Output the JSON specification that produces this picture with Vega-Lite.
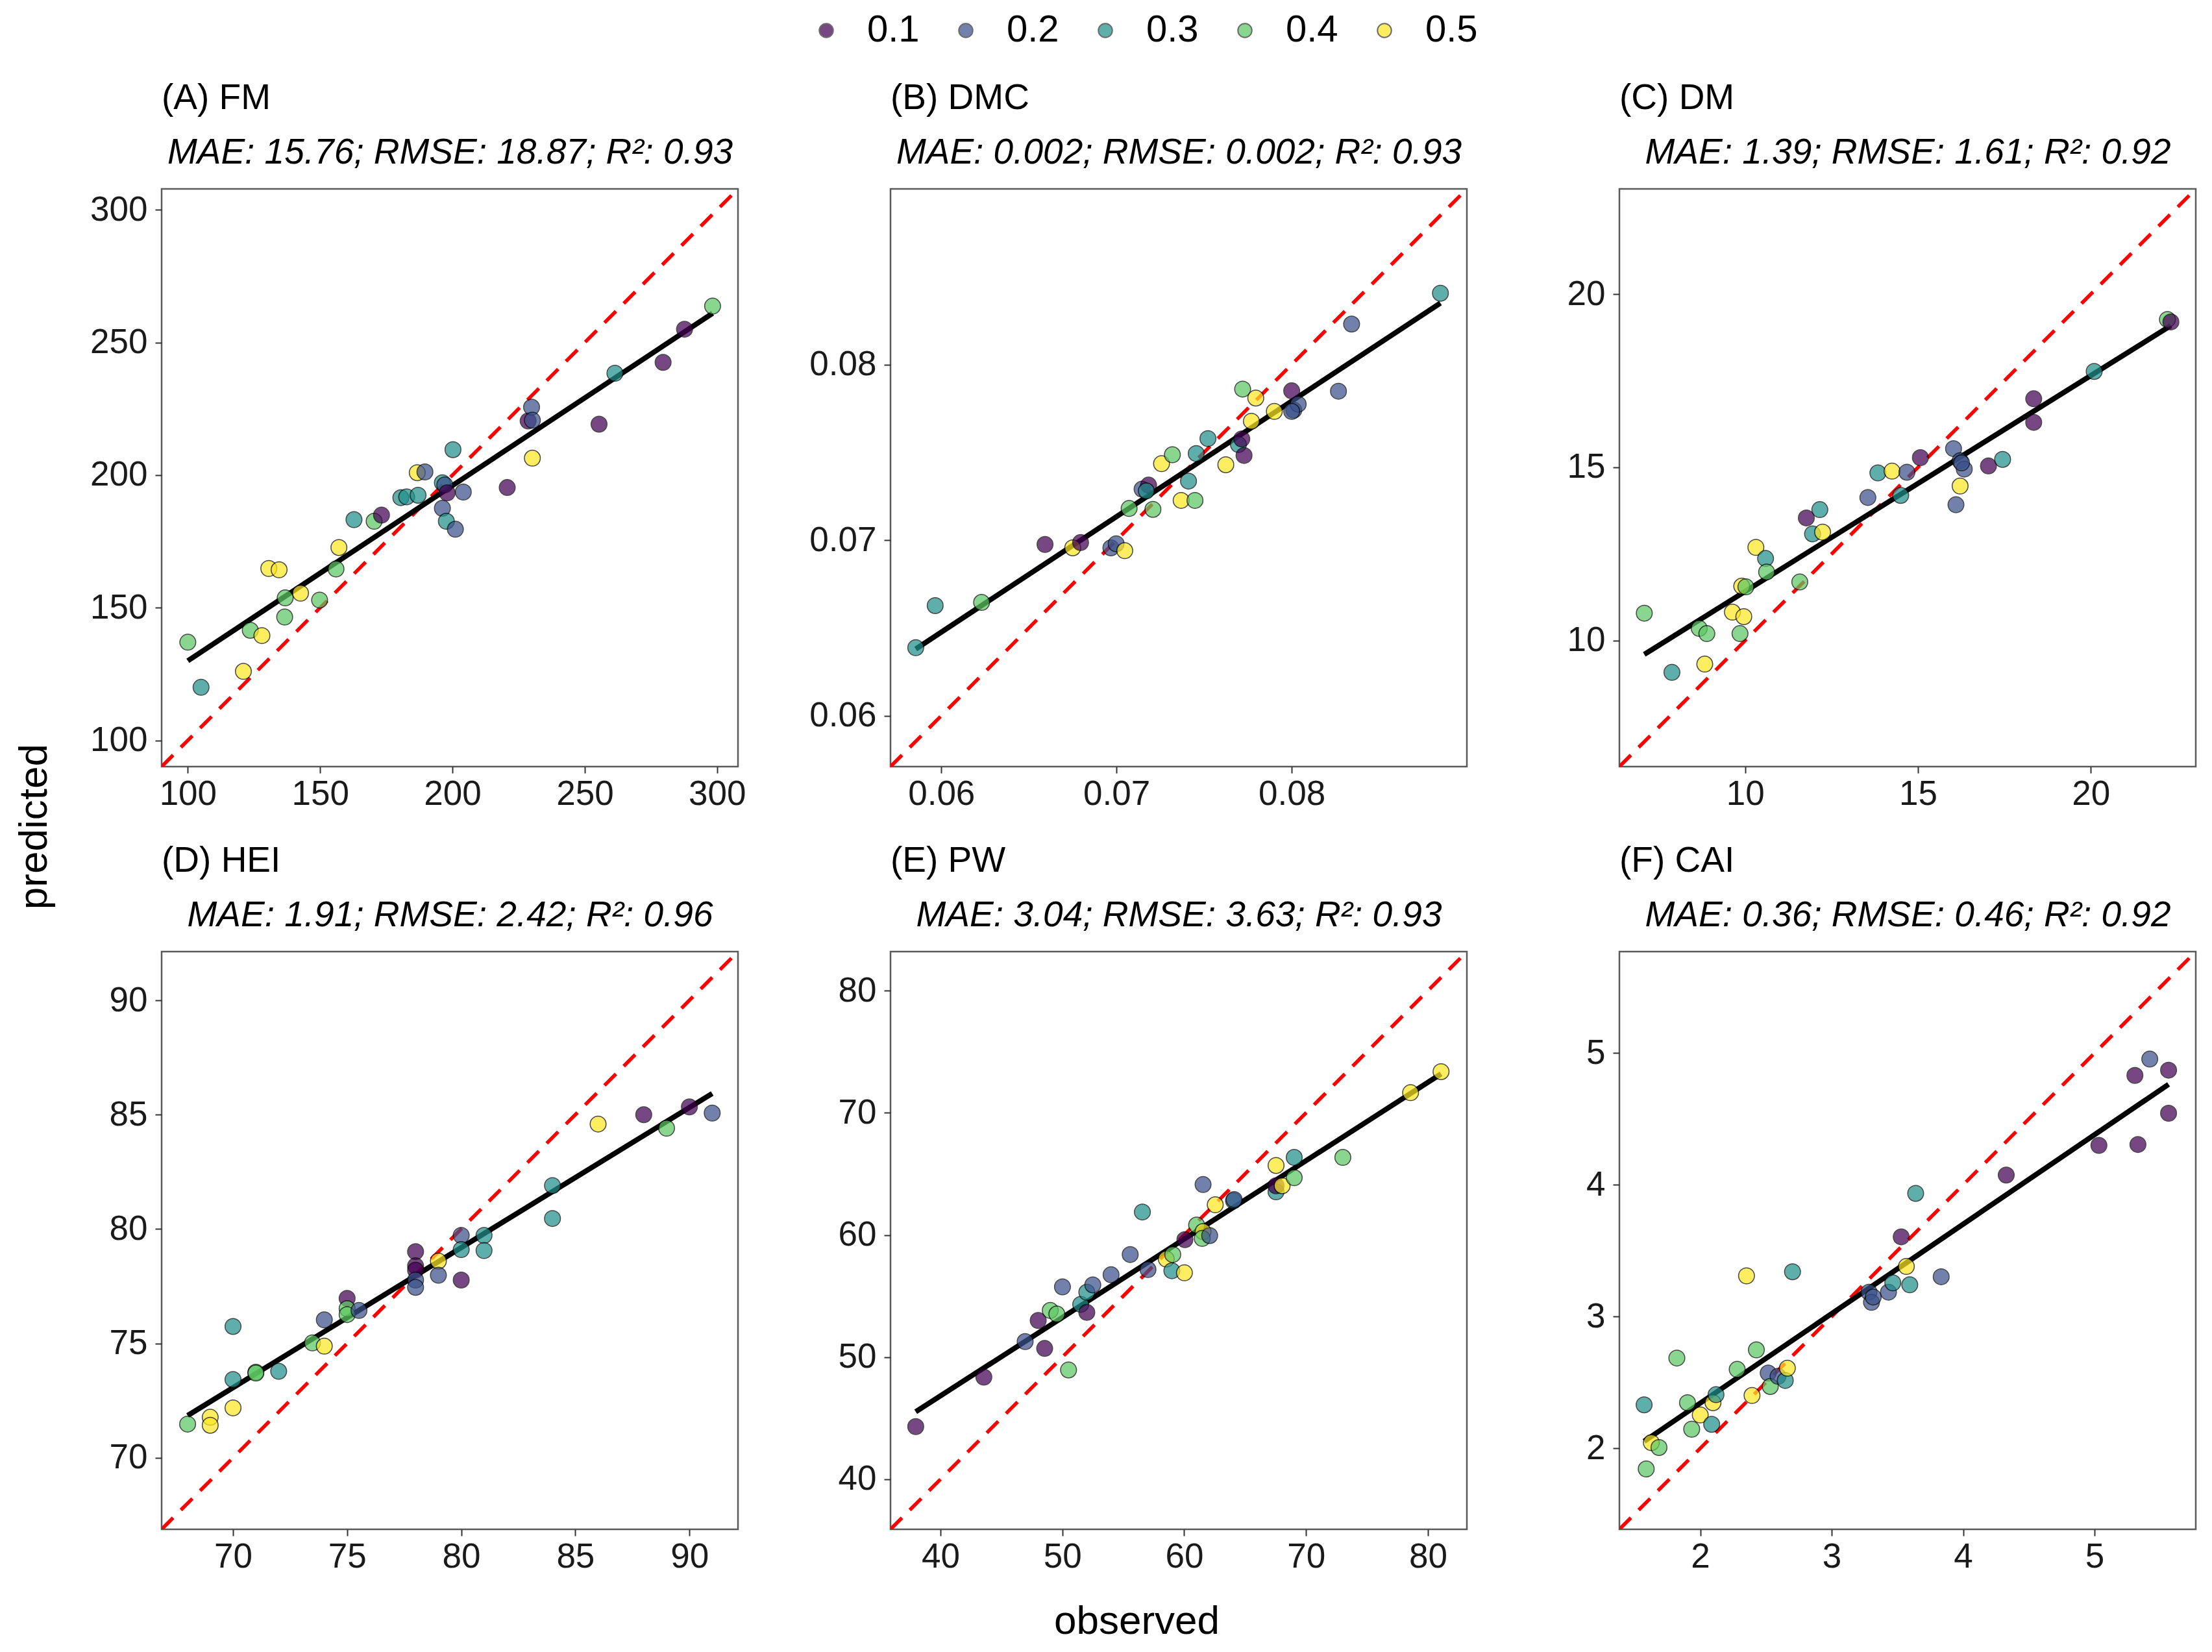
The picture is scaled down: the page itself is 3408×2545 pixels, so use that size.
{
  "$schema": "https://vega.github.io/schema/vega-lite/v6.json",
  "padding": {"left": 22, "top": 18, "right": 20, "bottom": 10},
  "title": {"text": "predicted", "orient": "left", "anchor": "middle", "frame": "bounds", "fontSize": 62, "fontWeight": "normal", "offset": 52},
  "datasets": {
    "ident": [
      {"panel": "A", "lo": 90.1, "hi": 307.9},
      {"panel": "B", "lo": 0.0571, "hi": 0.09},
      {"panel": "C", "lo": 6.36, "hi": 23.04},
      {"panel": "D", "lo": 66.87, "hi": 92.13},
      {"panel": "E", "lo": 35.9, "hi": 83.2},
      {"panel": "F", "lo": 1.385, "hi": 5.77}
    ],
    "fm": [
      {"obs": 100, "pred": 137, "level": "0.4"}, {"obs": 105, "pred": 120, "level": "0.3"}, {"obs": 121, "pred": 126, "level": "0.5"},
      {"obs": 123.6, "pred": 141.5, "level": "0.4"}, {"obs": 128, "pred": 139.5, "level": "0.5"}, {"obs": 130.6, "pred": 164.8, "level": "0.5"},
      {"obs": 134.5, "pred": 164.3, "level": "0.5"}, {"obs": 136.8, "pred": 153.7, "level": "0.4"}, {"obs": 136.6, "pred": 146.5, "level": "0.4"},
      {"obs": 142.6, "pred": 155.5, "level": "0.5"}, {"obs": 149.8, "pred": 152.9, "level": "0.4"}, {"obs": 156, "pred": 164.6, "level": "0.4"},
      {"obs": 157.1, "pred": 172.7, "level": "0.5"}, {"obs": 162.8, "pred": 183.2, "level": "0.3"}, {"obs": 170.4, "pred": 182.6, "level": "0.4"},
      {"obs": 173.2, "pred": 184.9, "level": "0.1"}, {"obs": 180.5, "pred": 191.5, "level": "0.3"}, {"obs": 182.7, "pred": 191.8, "level": "0.3"},
      {"obs": 187, "pred": 192.4, "level": "0.3"}, {"obs": 186.7, "pred": 200.9, "level": "0.5"}, {"obs": 189.6, "pred": 201.2, "level": "0.2"},
      {"obs": 196.2, "pred": 197.1, "level": "0.3"}, {"obs": 197.1, "pred": 196.3, "level": "0.2"}, {"obs": 198, "pred": 193.3, "level": "0.1"},
      {"obs": 204.1, "pred": 193.6, "level": "0.2"}, {"obs": 196.2, "pred": 187.5, "level": "0.2"}, {"obs": 197.7, "pred": 182.6, "level": "0.3"},
      {"obs": 201.1, "pred": 179.6, "level": "0.2"}, {"obs": 200.2, "pred": 209.6, "level": "0.3"}, {"obs": 220.7, "pred": 195.3, "level": "0.1"},
      {"obs": 228.6, "pred": 220.4, "level": "0.1"}, {"obs": 229.9, "pred": 225.6, "level": "0.2"}, {"obs": 230.2, "pred": 220.7, "level": "0.2"},
      {"obs": 230.2, "pred": 206.4, "level": "0.5"}, {"obs": 255.4, "pred": 219.2, "level": "0.1"}, {"obs": 261.4, "pred": 238.4, "level": "0.3"},
      {"obs": 279.6, "pred": 242.5, "level": "0.1"}, {"obs": 287.7, "pred": 255, "level": "0.1"}, {"obs": 298.3, "pred": 263.7, "level": "0.4"}
    ],
    "dmc": [
      {"obs": 0.05854, "pred": 0.06387, "level": "0.3"}, {"obs": 0.05965, "pred": 0.06627, "level": "0.3"}, {"obs": 0.0623, "pred": 0.06645, "level": "0.4"},
      {"obs": 0.06592, "pred": 0.06975, "level": "0.1"}, {"obs": 0.0675, "pred": 0.06956, "level": "0.5"}, {"obs": 0.06795, "pred": 0.06986, "level": "0.1"},
      {"obs": 0.06968, "pred": 0.06956, "level": "0.2"}, {"obs": 0.06998, "pred": 0.06979, "level": "0.2"}, {"obs": 0.07047, "pred": 0.0694, "level": "0.5"},
      {"obs": 0.07072, "pred": 0.0718, "level": "0.4"}, {"obs": 0.07208, "pred": 0.07175, "level": "0.4"}, {"obs": 0.07146, "pred": 0.0729, "level": "0.2"},
      {"obs": 0.07183, "pred": 0.07313, "level": "0.1"}, {"obs": 0.0717, "pred": 0.0728, "level": "0.3"}, {"obs": 0.07257, "pred": 0.07435, "level": "0.5"},
      {"obs": 0.07319, "pred": 0.07486, "level": "0.4"}, {"obs": 0.07369, "pred": 0.07226, "level": "0.5"}, {"obs": 0.07448, "pred": 0.07226, "level": "0.4"},
      {"obs": 0.07411, "pred": 0.07336, "level": "0.3"}, {"obs": 0.07455, "pred": 0.07493, "level": "0.3"}, {"obs": 0.07522, "pred": 0.07578, "level": "0.3"},
      {"obs": 0.07624, "pred": 0.07429, "level": "0.5"}, {"obs": 0.07696, "pred": 0.07544, "level": "0.3"}, {"obs": 0.07715, "pred": 0.07576, "level": "0.1"},
      {"obs": 0.07728, "pred": 0.07482, "level": "0.1"}, {"obs": 0.0772, "pred": 0.0786, "level": "0.4"}, {"obs": 0.07795, "pred": 0.07809, "level": "0.5"},
      {"obs": 0.0777, "pred": 0.07677, "level": "0.5"}, {"obs": 0.07901, "pred": 0.07733, "level": "0.5"}, {"obs": 0.08, "pred": 0.0785, "level": "0.1"},
      {"obs": 0.08012, "pred": 0.0774, "level": "0.2"}, {"obs": 0.08037, "pred": 0.07774, "level": "0.2"}, {"obs": 0.08, "pred": 0.07733, "level": "0.2"},
      {"obs": 0.08267, "pred": 0.07848, "level": "0.2"}, {"obs": 0.08342, "pred": 0.0823, "level": "0.2"}, {"obs": 0.08849, "pred": 0.08406, "level": "0.3"}
    ],
    "dm": [
      {"obs": 7.08, "pred": 10.79, "level": "0.4"}, {"obs": 7.88, "pred": 9.08, "level": "0.3"}, {"obs": 8.67, "pred": 10.35, "level": "0.4"},
      {"obs": 8.89, "pred": 10.2, "level": "0.4"}, {"obs": 8.83, "pred": 9.32, "level": "0.5"}, {"obs": 9.63, "pred": 10.82, "level": "0.5"},
      {"obs": 9.96, "pred": 10.69, "level": "0.5"}, {"obs": 9.85, "pred": 10.2, "level": "0.4"}, {"obs": 9.9, "pred": 11.57, "level": "0.5"},
      {"obs": 10.02, "pred": 11.55, "level": "0.4"}, {"obs": 10.31, "pred": 12.69, "level": "0.5"}, {"obs": 10.59, "pred": 12.37, "level": "0.3"},
      {"obs": 10.62, "pred": 11.98, "level": "0.4"}, {"obs": 11.58, "pred": 11.69, "level": "0.4"}, {"obs": 11.77, "pred": 13.54, "level": "0.1"},
      {"obs": 11.95, "pred": 13.08, "level": "0.3"}, {"obs": 12.16, "pred": 13.78, "level": "0.3"}, {"obs": 12.24, "pred": 13.13, "level": "0.5"},
      {"obs": 13.55, "pred": 14.13, "level": "0.2"}, {"obs": 13.84, "pred": 14.84, "level": "0.3"}, {"obs": 14.25, "pred": 14.89, "level": "0.5"},
      {"obs": 14.68, "pred": 14.86, "level": "0.2"}, {"obs": 14.5, "pred": 14.19, "level": "0.3"}, {"obs": 15.07, "pred": 15.28, "level": "0.1"},
      {"obs": 16.03, "pred": 15.54, "level": "0.2"}, {"obs": 16.22, "pred": 15.19, "level": "0.2"}, {"obs": 16.34, "pred": 14.95, "level": "0.2"},
      {"obs": 16.26, "pred": 15.13, "level": "0.2"}, {"obs": 16.1, "pred": 13.92, "level": "0.2"}, {"obs": 16.22, "pred": 14.46, "level": "0.5"},
      {"obs": 17.04, "pred": 15.04, "level": "0.1"}, {"obs": 17.45, "pred": 15.23, "level": "0.3"}, {"obs": 18.35, "pred": 16.98, "level": "0.1"},
      {"obs": 18.35, "pred": 16.3, "level": "0.1"}, {"obs": 20.1, "pred": 17.77, "level": "0.3"}, {"obs": 22.22, "pred": 19.27, "level": "0.4"},
      {"obs": 22.32, "pred": 19.2, "level": "0.1"}
    ],
    "hei": [
      {"obs": 68.01, "pred": 71.47, "level": "0.4"}, {"obs": 69, "pred": 71.77, "level": "0.5"}, {"obs": 69, "pred": 71.42, "level": "0.5"},
      {"obs": 70, "pred": 72.18, "level": "0.5"}, {"obs": 70, "pred": 73.42, "level": "0.3"}, {"obs": 70, "pred": 75.74, "level": "0.3"},
      {"obs": 71, "pred": 73.74, "level": "0.4"}, {"obs": 71, "pred": 73.7, "level": "0.4"}, {"obs": 72, "pred": 73.78, "level": "0.3"},
      {"obs": 73.48, "pred": 75.02, "level": "0.4"}, {"obs": 74, "pred": 74.88, "level": "0.5"}, {"obs": 74, "pred": 76.03, "level": "0.2"},
      {"obs": 75, "pred": 76.97, "level": "0.1"}, {"obs": 75, "pred": 76.52, "level": "0.4"}, {"obs": 75, "pred": 76.26, "level": "0.4"},
      {"obs": 75.52, "pred": 76.44, "level": "0.2"}, {"obs": 78, "pred": 79.01, "level": "0.1"}, {"obs": 78, "pred": 78.39, "level": "0.1"},
      {"obs": 78, "pred": 78.2, "level": "0.1"}, {"obs": 78, "pred": 77.77, "level": "0.2"}, {"obs": 78, "pred": 77.45, "level": "0.2"},
      {"obs": 79, "pred": 78.6, "level": "0.5"}, {"obs": 79, "pred": 77.98, "level": "0.2"}, {"obs": 80, "pred": 77.77, "level": "0.1"},
      {"obs": 80, "pred": 79.72, "level": "0.2"}, {"obs": 80, "pred": 79.1, "level": "0.3"}, {"obs": 81, "pred": 79.72, "level": "0.3"},
      {"obs": 81, "pred": 79.06, "level": "0.3"}, {"obs": 84, "pred": 81.9, "level": "0.3"}, {"obs": 84, "pred": 80.46, "level": "0.3"},
      {"obs": 86, "pred": 84.59, "level": "0.5"}, {"obs": 88, "pred": 85, "level": "0.1"}, {"obs": 89, "pred": 84.41, "level": "0.4"},
      {"obs": 90, "pred": 85.34, "level": "0.1"}, {"obs": 91, "pred": 85.07, "level": "0.2"}
    ],
    "pw": [
      {"obs": 37.97, "pred": 44.31, "level": "0.1"}, {"obs": 43.56, "pred": 48.36, "level": "0.1"}, {"obs": 46.95, "pred": 51.27, "level": "0.2"},
      {"obs": 48.55, "pred": 50.71, "level": "0.1"}, {"obs": 48.02, "pred": 53, "level": "0.1"}, {"obs": 49.01, "pred": 53.82, "level": "0.4"},
      {"obs": 49.55, "pred": 53.53, "level": "0.4"}, {"obs": 50.01, "pred": 55.75, "level": "0.2"}, {"obs": 50.51, "pred": 48.95, "level": "0.4"},
      {"obs": 51.51, "pred": 54.32, "level": "0.3"}, {"obs": 52.01, "pred": 53.66, "level": "0.1"}, {"obs": 52.01, "pred": 55.31, "level": "0.3"},
      {"obs": 52.5, "pred": 55.91, "level": "0.2"}, {"obs": 54, "pred": 56.74, "level": "0.2"}, {"obs": 55.57, "pred": 58.4, "level": "0.2"},
      {"obs": 56.57, "pred": 61.88, "level": "0.3"}, {"obs": 57.03, "pred": 57.17, "level": "0.2"}, {"obs": 58.53, "pred": 58.03, "level": "0.5"},
      {"obs": 59.06, "pred": 58.4, "level": "0.4"}, {"obs": 58.99, "pred": 57.07, "level": "0.3"}, {"obs": 60.02, "pred": 56.9, "level": "0.5"},
      {"obs": 60.06, "pred": 59.62, "level": "0.1"}, {"obs": 61.02, "pred": 60.81, "level": "0.4"}, {"obs": 61.55, "pred": 60.28, "level": "0.5"},
      {"obs": 61.48, "pred": 59.72, "level": "0.4"}, {"obs": 62.09, "pred": 59.95, "level": "0.2"}, {"obs": 61.55, "pred": 64.13, "level": "0.2"},
      {"obs": 62.55, "pred": 62.47, "level": "0.5"}, {"obs": 64.05, "pred": 62.8, "level": "0.3"}, {"obs": 64.1, "pred": 62.9, "level": "0.2"},
      {"obs": 67.54, "pred": 65.69, "level": "0.5"}, {"obs": 67.54, "pred": 63.53, "level": "0.3"}, {"obs": 67.54, "pred": 64.03, "level": "0.1"},
      {"obs": 68.04, "pred": 64.03, "level": "0.5"}, {"obs": 69.03, "pred": 66.35, "level": "0.3"}, {"obs": 69.03, "pred": 64.69, "level": "0.4"},
      {"obs": 73.02, "pred": 66.35, "level": "0.4"}, {"obs": 78.58, "pred": 71.65, "level": "0.5"}, {"obs": 81.08, "pred": 73.37, "level": "0.5"}
    ],
    "cai": [
      {"obs": 1.573, "pred": 2.33, "level": "0.3"}, {"obs": 1.589, "pred": 1.843, "level": "0.4"}, {"obs": 1.628, "pred": 2.043, "level": "0.5"},
      {"obs": 1.686, "pred": 2.006, "level": "0.4"}, {"obs": 1.822, "pred": 2.685, "level": "0.4"}, {"obs": 1.903, "pred": 2.346, "level": "0.4"},
      {"obs": 1.935, "pred": 2.145, "level": "0.4"}, {"obs": 2.0, "pred": 2.253, "level": "0.5"}, {"obs": 2.097, "pred": 2.346, "level": "0.5"},
      {"obs": 2.12, "pred": 2.407, "level": "0.3"}, {"obs": 2.087, "pred": 2.182, "level": "0.3"}, {"obs": 2.281, "pred": 2.599, "level": "0.4"},
      {"obs": 2.352, "pred": 3.309, "level": "0.5"}, {"obs": 2.394, "pred": 2.401, "level": "0.5"}, {"obs": 2.427, "pred": 2.747, "level": "0.4"},
      {"obs": 2.517, "pred": 2.571, "level": "0.2"}, {"obs": 2.533, "pred": 2.469, "level": "0.4"}, {"obs": 2.592, "pred": 2.546, "level": "0.2"},
      {"obs": 2.647, "pred": 2.515, "level": "0.3"}, {"obs": 2.663, "pred": 2.608, "level": "0.5"}, {"obs": 2.702, "pred": 3.34, "level": "0.3"},
      {"obs": 3.284, "pred": 3.185, "level": "0.2"}, {"obs": 3.303, "pred": 3.108, "level": "0.2"}, {"obs": 3.316, "pred": 3.148, "level": "0.2"},
      {"obs": 3.432, "pred": 3.185, "level": "0.2"}, {"obs": 3.465, "pred": 3.256, "level": "0.3"}, {"obs": 3.529, "pred": 3.605, "level": "0.1"},
      {"obs": 3.568, "pred": 3.38, "level": "0.5"}, {"obs": 3.594, "pred": 3.241, "level": "0.3"}, {"obs": 3.639, "pred": 3.935, "level": "0.3"},
      {"obs": 3.833, "pred": 3.302, "level": "0.2"}, {"obs": 4.328, "pred": 4.074, "level": "0.1"}, {"obs": 5.033, "pred": 4.299, "level": "0.1"},
      {"obs": 5.33, "pred": 4.306, "level": "0.1"}, {"obs": 5.307, "pred": 4.83, "level": "0.1"}, {"obs": 5.42, "pred": 4.954, "level": "0.2"},
      {"obs": 5.563, "pred": 4.87, "level": "0.1"}, {"obs": 5.563, "pred": 4.543, "level": "0.1"}
    ]
  },
  "columns": 3,
  "bounds": "flush",
  "spacing": {"row": 285, "column": 235},
  "concat": [
    {
      "width": 888, "height": 890,
      "title": {"text": "(A) FM"},
      "layer": [
        {
          "data": {"name": "ident"},
          "transform": [{"filter": "datum.panel == 'A'"}],
          "mark": {"type": "rule", "color": "#ff0000", "strokeWidth": 5.5, "strokeDash": [25, 17], "clip": true},
          "encoding": {
            "x": {"field": "lo", "type": "quantitative", "scale": {"domain": [90.1, 307.9], "nice": false, "zero": false},
              "axis": {"orient": "top", "title": "MAE: 15.76; RMSE: 18.87; R²: 0.93", "labels": false, "ticks": false, "minExtent": 0, "titleFontStyle": "italic", "titleFontSize": 55, "titlePadding": 28}},
            "y": {"field": "lo", "type": "quantitative", "scale": {"domain": [90.1, 307.9], "nice": false, "zero": false}, "axis": {"values": [100, 150, 200, 250, 300], "title": null}},
            "x2": {"field": "hi"}, "y2": {"field": "hi"}
          }
        },
        {
          "data": {"name": "fm"},
          "transform": [{"regression": "pred", "on": "obs"}],
          "mark": {"type": "line", "color": "#000000", "strokeWidth": 8},
          "encoding": {
            "x": {"field": "obs", "type": "quantitative", "scale": {"domain": [90.1, 307.9], "nice": false, "zero": false}, "axis": null},
            "y": {"field": "pred", "type": "quantitative", "scale": {"domain": [90.1, 307.9], "nice": false, "zero": false}, "axis": {"values": [100, 150, 200, 250, 300], "title": null}}
          }
        },
        {
          "data": {"name": "fm"},
          "mark": {"type": "point", "filled": true, "size": 600, "opacity": 0.72, "stroke": "#000000", "strokeWidth": 1.5},
          "encoding": {
            "x": {"field": "obs", "type": "quantitative", "scale": {"domain": [90.1, 307.9], "nice": false, "zero": false}, "axis": {"orient": "bottom", "values": [100, 150, 200, 250, 300], "title": null}},
            "y": {"field": "pred", "type": "quantitative", "scale": {"domain": [90.1, 307.9], "nice": false, "zero": false}, "axis": {"values": [100, 150, 200, 250, 300], "title": null}},
            "color": {"field": "level", "type": "nominal", "scale": {"domain": ["0.1", "0.2", "0.3", "0.4", "0.5"], "range": ["#440154", "#3B528B", "#21908C", "#5DC863", "#FDE725"]}, "legend": {"title": null}}
          }
        }
      ],
      "resolve": {"axis": {"x": "independent"}}
    },
    {
      "width": 888, "height": 890,
      "title": {"text": "(B) DMC"},
      "layer": [
        {
          "data": {"name": "ident"},
          "transform": [{"filter": "datum.panel == 'B'"}],
          "mark": {"type": "rule", "color": "#ff0000", "strokeWidth": 5.5, "strokeDash": [25, 17], "clip": true},
          "encoding": {
            "x": {"field": "lo", "type": "quantitative", "scale": {"domain": [0.0571, 0.09], "nice": false, "zero": false},
              "axis": {"orient": "top", "title": "MAE: 0.002; RMSE: 0.002; R²: 0.93", "labels": false, "ticks": false, "minExtent": 0, "titleFontStyle": "italic", "titleFontSize": 55, "titlePadding": 28}},
            "y": {"field": "lo", "type": "quantitative", "scale": {"domain": [0.0571, 0.09], "nice": false, "zero": false}, "axis": {"values": [0.06, 0.07, 0.08], "format": ".2f", "title": null}},
            "x2": {"field": "hi"}, "y2": {"field": "hi"}
          }
        },
        {
          "data": {"name": "dmc"},
          "transform": [{"regression": "pred", "on": "obs"}],
          "mark": {"type": "line", "color": "#000000", "strokeWidth": 8},
          "encoding": {
            "x": {"field": "obs", "type": "quantitative", "scale": {"domain": [0.0571, 0.09], "nice": false, "zero": false}, "axis": null},
            "y": {"field": "pred", "type": "quantitative", "scale": {"domain": [0.0571, 0.09], "nice": false, "zero": false}, "axis": {"values": [0.06, 0.07, 0.08], "format": ".2f", "title": null}}
          }
        },
        {
          "data": {"name": "dmc"},
          "mark": {"type": "point", "filled": true, "size": 600, "opacity": 0.72, "stroke": "#000000", "strokeWidth": 1.5},
          "encoding": {
            "x": {"field": "obs", "type": "quantitative", "scale": {"domain": [0.0571, 0.09], "nice": false, "zero": false}, "axis": {"orient": "bottom", "values": [0.06, 0.07, 0.08], "format": ".2f", "title": null}},
            "y": {"field": "pred", "type": "quantitative", "scale": {"domain": [0.0571, 0.09], "nice": false, "zero": false}, "axis": {"values": [0.06, 0.07, 0.08], "format": ".2f", "title": null}},
            "color": {"field": "level", "type": "nominal", "scale": {"domain": ["0.1", "0.2", "0.3", "0.4", "0.5"], "range": ["#440154", "#3B528B", "#21908C", "#5DC863", "#FDE725"]}, "legend": {"title": null}}
          }
        }
      ],
      "resolve": {"axis": {"x": "independent"}}
    },
    {
      "width": 888, "height": 890,
      "title": {"text": "(C) DM"},
      "layer": [
        {
          "data": {"name": "ident"},
          "transform": [{"filter": "datum.panel == 'C'"}],
          "mark": {"type": "rule", "color": "#ff0000", "strokeWidth": 5.5, "strokeDash": [25, 17], "clip": true},
          "encoding": {
            "x": {"field": "lo", "type": "quantitative", "scale": {"domain": [6.36, 23.04], "nice": false, "zero": false},
              "axis": {"orient": "top", "title": "MAE: 1.39; RMSE: 1.61; R²: 0.92", "labels": false, "ticks": false, "minExtent": 0, "titleFontStyle": "italic", "titleFontSize": 55, "titlePadding": 28}},
            "y": {"field": "lo", "type": "quantitative", "scale": {"domain": [6.36, 23.04], "nice": false, "zero": false}, "axis": {"values": [10, 15, 20], "title": null}},
            "x2": {"field": "hi"}, "y2": {"field": "hi"}
          }
        },
        {
          "data": {"name": "dm"},
          "transform": [{"regression": "pred", "on": "obs"}],
          "mark": {"type": "line", "color": "#000000", "strokeWidth": 8},
          "encoding": {
            "x": {"field": "obs", "type": "quantitative", "scale": {"domain": [6.36, 23.04], "nice": false, "zero": false}, "axis": null},
            "y": {"field": "pred", "type": "quantitative", "scale": {"domain": [6.36, 23.04], "nice": false, "zero": false}, "axis": {"values": [10, 15, 20], "title": null}}
          }
        },
        {
          "data": {"name": "dm"},
          "mark": {"type": "point", "filled": true, "size": 600, "opacity": 0.72, "stroke": "#000000", "strokeWidth": 1.5},
          "encoding": {
            "x": {"field": "obs", "type": "quantitative", "scale": {"domain": [6.36, 23.04], "nice": false, "zero": false}, "axis": {"orient": "bottom", "values": [10, 15, 20], "title": null}},
            "y": {"field": "pred", "type": "quantitative", "scale": {"domain": [6.36, 23.04], "nice": false, "zero": false}, "axis": {"values": [10, 15, 20], "title": null}},
            "color": {"field": "level", "type": "nominal", "scale": {"domain": ["0.1", "0.2", "0.3", "0.4", "0.5"], "range": ["#440154", "#3B528B", "#21908C", "#5DC863", "#FDE725"]}, "legend": {"title": null}}
          }
        }
      ],
      "resolve": {"axis": {"x": "independent"}}
    },
    {
      "width": 888, "height": 890,
      "title": {"text": "(D) HEI"},
      "layer": [
        {
          "data": {"name": "ident"},
          "transform": [{"filter": "datum.panel == 'D'"}],
          "mark": {"type": "rule", "color": "#ff0000", "strokeWidth": 5.5, "strokeDash": [25, 17], "clip": true},
          "encoding": {
            "x": {"field": "lo", "type": "quantitative", "scale": {"domain": [66.87, 92.13], "nice": false, "zero": false},
              "axis": {"orient": "top", "title": "MAE: 1.91; RMSE: 2.42; R²: 0.96", "labels": false, "ticks": false, "minExtent": 0, "titleFontStyle": "italic", "titleFontSize": 55, "titlePadding": 28}},
            "y": {"field": "lo", "type": "quantitative", "scale": {"domain": [66.87, 92.13], "nice": false, "zero": false}, "axis": {"values": [70, 75, 80, 85, 90], "title": null}},
            "x2": {"field": "hi"}, "y2": {"field": "hi"}
          }
        },
        {
          "data": {"name": "hei"},
          "transform": [{"regression": "pred", "on": "obs"}],
          "mark": {"type": "line", "color": "#000000", "strokeWidth": 8},
          "encoding": {
            "x": {"field": "obs", "type": "quantitative", "scale": {"domain": [66.87, 92.13], "nice": false, "zero": false}, "axis": null},
            "y": {"field": "pred", "type": "quantitative", "scale": {"domain": [66.87, 92.13], "nice": false, "zero": false}, "axis": {"values": [70, 75, 80, 85, 90], "title": null}}
          }
        },
        {
          "data": {"name": "hei"},
          "mark": {"type": "point", "filled": true, "size": 600, "opacity": 0.72, "stroke": "#000000", "strokeWidth": 1.5},
          "encoding": {
            "x": {"field": "obs", "type": "quantitative", "scale": {"domain": [66.87, 92.13], "nice": false, "zero": false}, "axis": {"orient": "bottom", "values": [70, 75, 80, 85, 90], "title": null}},
            "y": {"field": "pred", "type": "quantitative", "scale": {"domain": [66.87, 92.13], "nice": false, "zero": false}, "axis": {"values": [70, 75, 80, 85, 90], "title": null}},
            "color": {"field": "level", "type": "nominal", "scale": {"domain": ["0.1", "0.2", "0.3", "0.4", "0.5"], "range": ["#440154", "#3B528B", "#21908C", "#5DC863", "#FDE725"]}, "legend": {"title": null}}
          }
        }
      ],
      "resolve": {"axis": {"x": "independent"}}
    },
    {
      "width": 888, "height": 890,
      "title": {"text": "(E) PW"},
      "layer": [
        {
          "data": {"name": "ident"},
          "transform": [{"filter": "datum.panel == 'E'"}],
          "mark": {"type": "rule", "color": "#ff0000", "strokeWidth": 5.5, "strokeDash": [25, 17], "clip": true},
          "encoding": {
            "x": {"field": "lo", "type": "quantitative", "scale": {"domain": [35.9, 83.2], "nice": false, "zero": false},
              "axis": {"orient": "top", "title": "MAE: 3.04; RMSE: 3.63; R²: 0.93", "labels": false, "ticks": false, "minExtent": 0, "titleFontStyle": "italic", "titleFontSize": 55, "titlePadding": 28}},
            "y": {"field": "lo", "type": "quantitative", "scale": {"domain": [35.9, 83.2], "nice": false, "zero": false}, "axis": {"values": [40, 50, 60, 70, 80], "title": null}},
            "x2": {"field": "hi"}, "y2": {"field": "hi"}
          }
        },
        {
          "data": {"name": "pw"},
          "transform": [{"regression": "pred", "on": "obs"}],
          "mark": {"type": "line", "color": "#000000", "strokeWidth": 8},
          "encoding": {
            "x": {"field": "obs", "type": "quantitative", "scale": {"domain": [35.9, 83.2], "nice": false, "zero": false}, "axis": null},
            "y": {"field": "pred", "type": "quantitative", "scale": {"domain": [35.9, 83.2], "nice": false, "zero": false}, "axis": {"values": [40, 50, 60, 70, 80], "title": null}}
          }
        },
        {
          "data": {"name": "pw"},
          "mark": {"type": "point", "filled": true, "size": 600, "opacity": 0.72, "stroke": "#000000", "strokeWidth": 1.5},
          "encoding": {
            "x": {"field": "obs", "type": "quantitative", "scale": {"domain": [35.9, 83.2], "nice": false, "zero": false}, "axis": {"orient": "bottom", "values": [40, 50, 60, 70, 80], "title": "observed", "titleFontSize": 62, "titlePadding": 42, "titleX": 379}},
            "y": {"field": "pred", "type": "quantitative", "scale": {"domain": [35.9, 83.2], "nice": false, "zero": false}, "axis": {"values": [40, 50, 60, 70, 80], "title": null}},
            "color": {"field": "level", "type": "nominal", "scale": {"domain": ["0.1", "0.2", "0.3", "0.4", "0.5"], "range": ["#440154", "#3B528B", "#21908C", "#5DC863", "#FDE725"]}, "legend": {"title": null}}
          }
        }
      ],
      "resolve": {"axis": {"x": "independent"}}
    },
    {
      "width": 888, "height": 890,
      "title": {"text": "(F) CAI"},
      "layer": [
        {
          "data": {"name": "ident"},
          "transform": [{"filter": "datum.panel == 'F'"}],
          "mark": {"type": "rule", "color": "#ff0000", "strokeWidth": 5.5, "strokeDash": [25, 17], "clip": true},
          "encoding": {
            "x": {"field": "lo", "type": "quantitative", "scale": {"domain": [1.385, 5.77], "nice": false, "zero": false},
              "axis": {"orient": "top", "title": "MAE: 0.36; RMSE: 0.46; R²: 0.92", "labels": false, "ticks": false, "minExtent": 0, "titleFontStyle": "italic", "titleFontSize": 55, "titlePadding": 28}},
            "y": {"field": "lo", "type": "quantitative", "scale": {"domain": [1.385, 5.77], "nice": false, "zero": false}, "axis": {"values": [2, 3, 4, 5], "title": null}},
            "x2": {"field": "hi"}, "y2": {"field": "hi"}
          }
        },
        {
          "data": {"name": "cai"},
          "transform": [{"regression": "pred", "on": "obs"}],
          "mark": {"type": "line", "color": "#000000", "strokeWidth": 8},
          "encoding": {
            "x": {"field": "obs", "type": "quantitative", "scale": {"domain": [1.385, 5.77], "nice": false, "zero": false}, "axis": null},
            "y": {"field": "pred", "type": "quantitative", "scale": {"domain": [1.385, 5.77], "nice": false, "zero": false}, "axis": {"values": [2, 3, 4, 5], "title": null}}
          }
        },
        {
          "data": {"name": "cai"},
          "mark": {"type": "point", "filled": true, "size": 600, "opacity": 0.72, "stroke": "#000000", "strokeWidth": 1.5},
          "encoding": {
            "x": {"field": "obs", "type": "quantitative", "scale": {"domain": [1.385, 5.77], "nice": false, "zero": false}, "axis": {"orient": "bottom", "values": [2, 3, 4, 5], "title": null}},
            "y": {"field": "pred", "type": "quantitative", "scale": {"domain": [1.385, 5.77], "nice": false, "zero": false}, "axis": {"values": [2, 3, 4, 5], "title": null}},
            "color": {"field": "level", "type": "nominal", "scale": {"domain": ["0.1", "0.2", "0.3", "0.4", "0.5"], "range": ["#440154", "#3B528B", "#21908C", "#5DC863", "#FDE725"]}, "legend": {"title": null}}
          }
        }
      ],
      "resolve": {"axis": {"x": "independent"}}
    }
  ],
  "config": {
    "font": "Liberation Sans",
    "background": "#ffffff",
    "view": {"stroke": "#5a5a5a", "strokeWidth": 2.5},
    "title": {"anchor": "start", "frame": "group", "fontSize": 55, "fontWeight": "normal", "color": "#000000", "offset": 27},
    "axis": {"grid": false, "domain": false, "tickColor": "#333333", "tickWidth": 2, "tickSize": 10, "labelFontSize": 53, "labelColor": "#1a1a1a", "labelPadding": 6, "titleFontSize": 62, "titleFontWeight": "normal", "titleColor": "#000000"},
    "axisY": {"labelPadding": 12},
    "legend": {"orient": "top", "direction": "horizontal", "labelFontSize": 58, "labelColor": "#000000", "symbolSize": 460, "symbolType": "circle", "labelOffset": 34, "columnPadding": 42, "symbolStrokeColor": "#333333", "symbolStrokeWidth": 2, "offset": 46, "layout": {"top": {"anchor": "middle"}}}
  }
}
